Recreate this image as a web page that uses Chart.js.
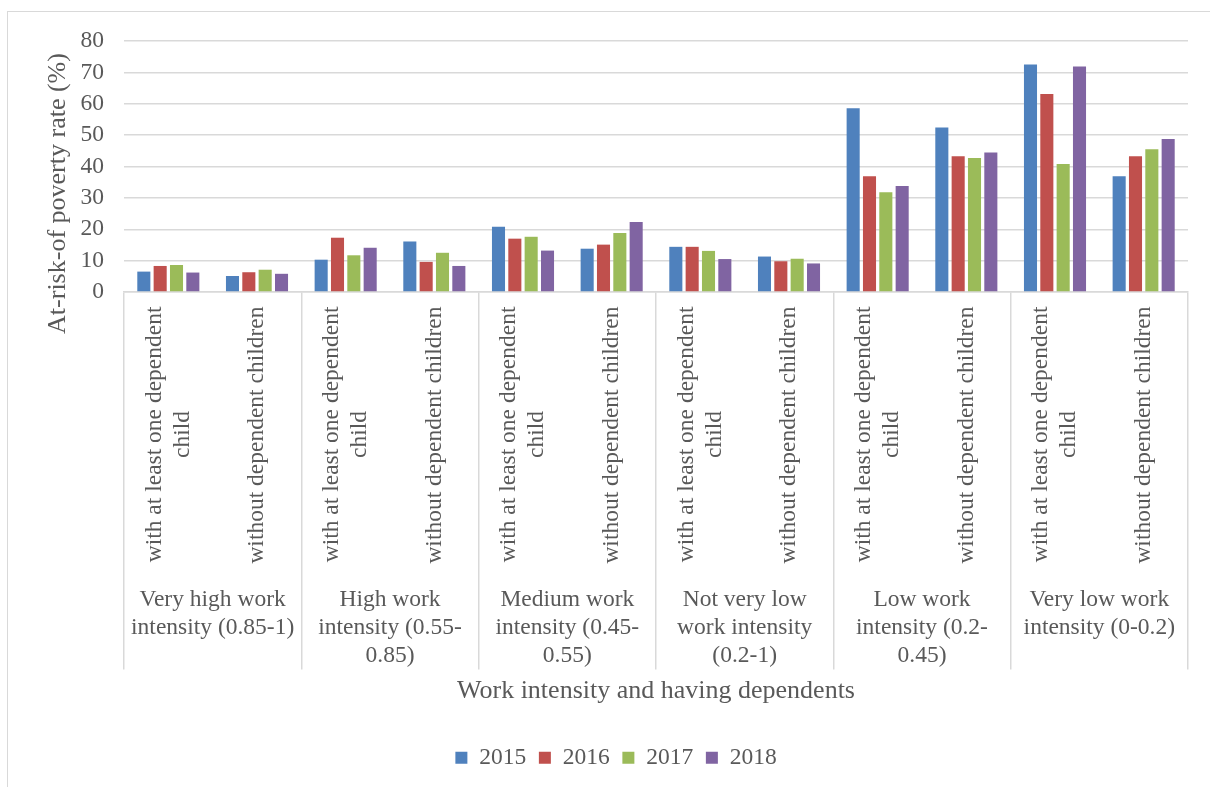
<!DOCTYPE html>
<html lang="en">
<head>
  <meta charset="utf-8">
  <title>At-risk-of poverty rate by work intensity</title>
  <script src="https://cdn.jsdelivr.net/npm/chart.js"></script>
  <style>
    body { margin: 0; background: #fff; }
    .wrap { position: relative; width: 1210px; height: 787px; }
    .frame { position: absolute; left: 7px; top: 11px; right: 0; bottom: 0; border-top: 1.5px solid #d9d9d9; border-left: 1.5px solid #d9d9d9; }
  </style>
</head>
<body>
<div class="wrap">
  <div class="frame"></div>
  <canvas id="povertyChart"></canvas>
</div>

<script>
// sub-categories (rotated labels), one per bar cluster
const subLabels = [
  ['with at least one dependent', 'child'], ['without dependent children'],
  ['with at least one dependent', 'child'], ['without dependent children'],
  ['with at least one dependent', 'child'], ['without dependent children'],
  ['with at least one dependent', 'child'], ['without dependent children'],
  ['with at least one dependent', 'child'], ['without dependent children'],
  ['with at least one dependent', 'child'], ['without dependent children']
];
// work intensity groups, two sub-categories each
const groupLabels = [
  ['Very high work', 'intensity (0.85-1)'],
  ['High work', 'intensity (0.55-', '0.85)'],
  ['Medium work', 'intensity (0.45-', '0.55)'],
  ['Not very low', 'work intensity', '(0.2-1)'],
  ['Low work', 'intensity (0.2-', '0.45)'],
  ['Very low work', 'intensity (0-0.2)']
];
const years = ['2015', '2016', '2017', '2018'];
const v2015 = [6.5, 5.1, 10.3, 16.1, 20.8, 13.8, 14.4, 11.3, 58.6, 52.4, 72.5, 36.9];
const v2016 = [8.3, 6.3, 17.3, 9.6, 17.0, 15.1, 14.4, 9.8, 36.9, 43.3, 63.1, 43.3];
const v2017 = [8.6, 7.1, 11.7, 12.5, 17.6, 18.8, 13.1, 10.6, 31.8, 42.7, 40.8, 45.5];
const v2018 = [6.2, 5.8, 14.1, 8.3, 13.2, 22.3, 10.5, 9.1, 33.8, 44.5, 71.9, 48.8];
const yTicks = [0, 10, 20, 30, 40, 50, 60, 70, 80];

const colors = ['#4F81BD', '#C0504D', '#9BBB59', '#8064A2'];
const textColor = '#595959';
const gridColor = '#d9d9d9';
const serif = '"Liberation Serif", "Times New Roman", serif';
const labelSize = 23.5;
const lineGap = 28;

// draws the two-level category axis text and the y axis title
const axisText = {
  id: 'axisText',
  afterDraw(chart) {
    const { ctx, chartArea } = chart;
    const x = chart.scales.x;
    ctx.save();
    ctx.fillStyle = textColor;
    ctx.font = labelSize + 'px ' + serif;
    ctx.textAlign = 'center';
    ctx.textBaseline = 'middle';

    subLabels.forEach((lines, i) => {
      const cx = x.getPixelForValue(i);
      const w = Math.max(...lines.map(l => ctx.measureText(l).width));
      ctx.save();
      ctx.translate(cx, chartArea.bottom + 14.5);
      ctx.rotate(-Math.PI / 2);
      lines.forEach((l, k) => ctx.fillText(l, -w / 2, (k - (lines.length - 1) / 2) * lineGap));
      ctx.restore();
    });

    groupLabels.forEach((lines, g) => {
      const cx = (x.getPixelForValue(2 * g) + x.getPixelForValue(2 * g + 1)) / 2;
      lines.forEach((l, k) => ctx.fillText(l, cx, chartArea.bottom + 307.5 + k * lineGap));
    });

    ctx.font = '26px ' + serif;
    ctx.translate(chartArea.left - 66, (chartArea.top + chartArea.bottom) / 2 + 27);
    ctx.rotate(-Math.PI / 2);
    ctx.fillText('At-risk-of poverty rate (%)', 0, 0);
    ctx.restore();
  }
};

new Chart(document.getElementById('povertyChart'), {
  type: 'bar',
  data: {
    labels: subLabels.map(l => l.join(' ')),
    datasets: [v2015, v2016, v2017, v2018].map((d, i) => ({
      label: years[i],
      data: d,
      backgroundColor: colors[i],
      categoryPercentage: 0.737,
      barPercentage: 0.8
    }))
  },
  options: {
    responsive: true,
    maintainAspectRatio: false,
    animation: false,
    layout: { padding: { left: 44, right: 22, top: 41, bottom: 7.5 } },
    plugins: {
      legend: {
        position: 'bottom',
        labels: {
          boxWidth: 12, boxHeight: 12, padding: 12.75,
          color: textColor,
          font: { family: serif, size: labelSize }
        }
      },
      tooltip: { enabled: false }
    },
    scales: {
      x: {
        offset: true,
        ticks: { display: false },
        grid: {
          offset: true,
          drawOnChartArea: false,
          drawTicks: true,
          tickLength: 377.5,
          lineWidth: 1.5,
          color: c => (c.index === undefined || c.index % 2 === 0) ? gridColor : 'rgba(0,0,0,0)'
        },
        border: { display: true, color: gridColor, width: 1.5 },
        title: {
          display: true,
          text: 'Work intensity and having dependents',
          color: textColor,
          font: { family: serif, size: 26 },
          padding: { top: 0, bottom: 26 }
        },
        afterFit: s => { s.height = 441.25; }
      },
      y: {
        min: 0,
        max: 80,
        afterBuildTicks: s => { s.ticks = yTicks.map(v => ({ value: v })); },
        ticks: { padding: 20, color: textColor, font: { family: serif, size: labelSize } },
        grid: { color: gridColor, lineWidth: 1.5, drawTicks: false },
        border: { display: false },
        afterFit: s => { s.width = 80; }
      }
    }
  },
  plugins: [axisText]
});
</script>
</body>
</html>
